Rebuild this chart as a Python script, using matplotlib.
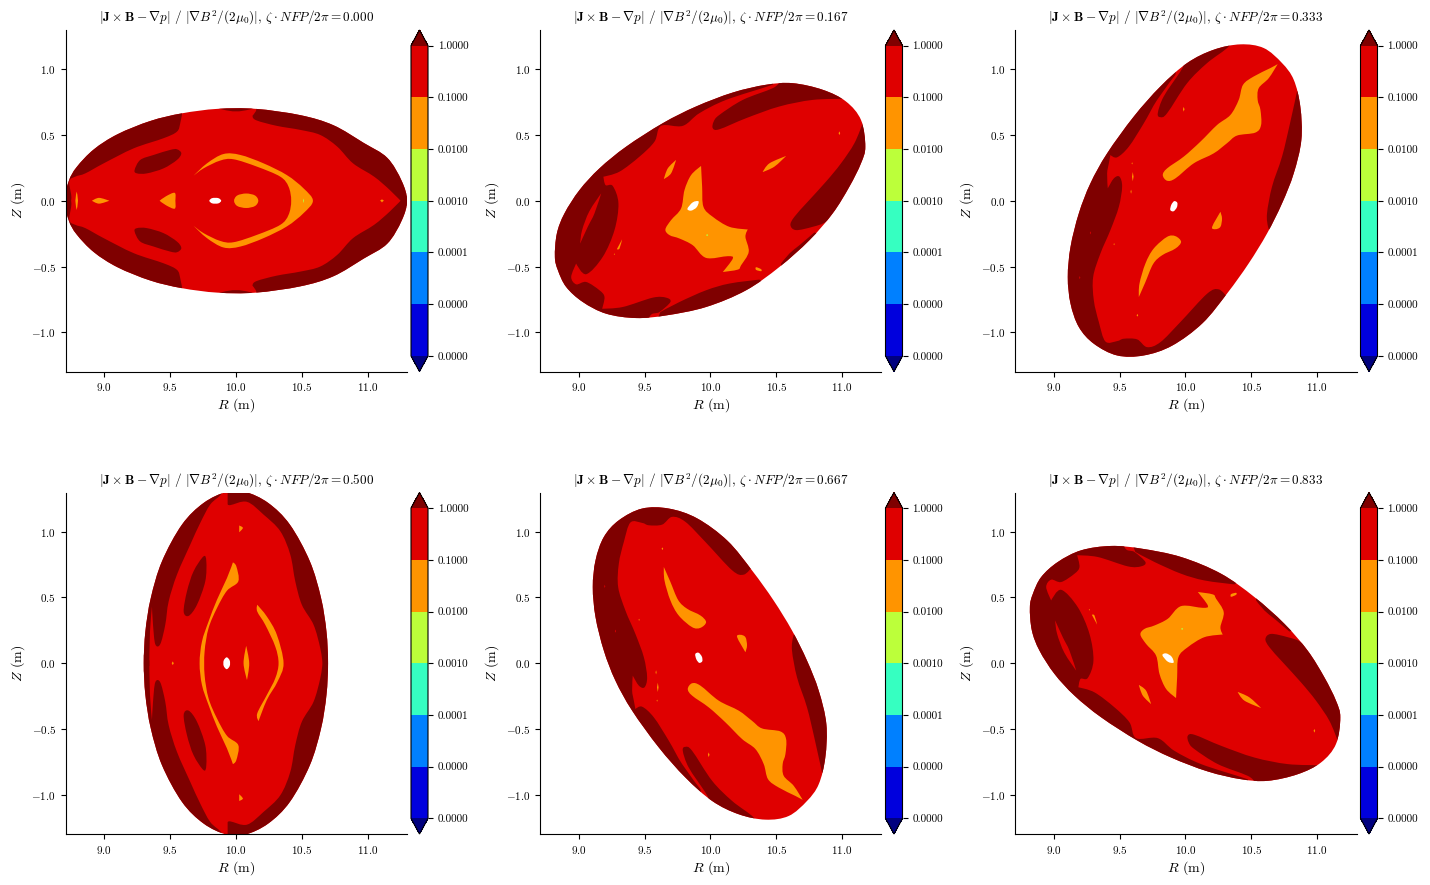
import numpy as np
import matplotlib
matplotlib.use('Agg')
import matplotlib.pyplot as plt
from matplotlib.colors import ListedColormap, BoundaryNorm
from matplotlib.cm import ScalarMappable
from matplotlib.patches import PathPatch
from matplotlib.path import Path

plt.rcParams['font.family'] = ['cmr10', 'DejaVu Sans']
plt.rcParams['mathtext.fontset'] = 'cm'
plt.rcParams['axes.formatter.use_mathtext'] = True

zetas = [0.000, 0.167, 0.333, 0.500, 0.667, 0.833]
levels = [1e-6, 1e-5, 1e-4, 1e-3, 1e-2, 1e-1, 1e0]
band_colors = ['#0000dd', '#0080ff', '#36ffc1', '#bcff3a', '#ff9400', '#df0000']
under_color = '#00007f'
over_color = '#7f0000'

# contour regions are (R, Z) in metres, a repeated vertex marks a sharp corner

# zeta = 0.000, up-down symmetric, upper half regions get flipped
a_outline = [(8.70, 0), (8.73, 0.15), (8.79, 0.256), (8.92, 0.39), (9.10, 0.505), (9.35, 0.606),
             (9.59, 0.664), (9.86, 0.698), (10.15, 0.698), (10.49, 0.65), (10.74, 0.574),
             (10.97, 0.44), (11.15, 0.326), (11.26, 0.15), (11.30, 0), (11.26, -0.15),
             (11.15, -0.326), (10.97, -0.44), (10.74, -0.574), (10.49, -0.65), (10.15, -0.698),
             (9.86, -0.698), (9.59, -0.664), (9.35, -0.606), (9.10, -0.505), (8.92, -0.39),
             (8.79, -0.256), (8.73, -0.15)]
a_dark_left = [(8.734, -0.02), (8.734, 0.145), (8.78, 0.183), (8.856, 0.208), (8.995, 0.284), (9.223, 0.398),
               (9.45, 0.475), (9.552, 0.525), (9.577, 0.589), (9.592, 0.67), (9.592, 0.67), (9.592, 0.9),
               (8.5, 0.9), (8.5, -0.02)]
a_dark_top = [(9.85, 0.72), (9.95, 0.683), (10.05, 0.683), (10.15, 0.72), (10.15, 0.85), (9.85, 0.85)]
a_dark_right = [(10.127, 0.64), (10.16, 0.609), (10.31, 0.569), (10.49, 0.538), (10.64, 0.5), (10.77, 0.411),
                (10.89, 0.284), (11.05, 0.183), (11.17, 0.081), (11.27, -0.02), (11.27, -0.02), (11.5, -0.02),
                (11.5, 0.9), (10.3, 0.9), (10.15, 0.678)]
a_island = [(9.23, 0.233), (9.273, 0.31), (9.375, 0.348), (9.50, 0.386), (9.552, 0.391), (9.585, 0.36),
            (9.552, 0.31), (9.45, 0.246), (9.324, 0.208), (9.248, 0.208)]
a_crescent = [(9.678, 0.19), (9.678, 0.19), (9.78, 0.284), (9.906, 0.355), (10.033, 0.348), (10.21, 0.284),
              (10.387, 0.195), (10.514, 0.094), (10.585, 0), (10.514, -0.094), (10.387, -0.195), (10.21, -0.284),
              (10.033, -0.348), (9.906, -0.355), (9.78, -0.284), (9.678, -0.19), (9.678, -0.19), (9.754, -0.246),
              (9.88, -0.305), (9.982, -0.315), (10.16, -0.259), (10.337, -0.183), (10.40, -0.107), (10.42, 0),
              (10.40, 0.107), (10.337, 0.183), (10.16, 0.259), (9.982, 0.315), (9.88, 0.305), (9.754, 0.246)]
a_triangle = [(9.42, 0), (9.42, 0), (9.47, 0.035), (9.535, 0.06), (9.54, 0), (9.535, -0.06), (9.47, -0.035)]
a_oval = [(9.986, 0), (10.01, 0.04), (10.078, 0.055), (10.145, 0.04), (10.17, 0), (10.145, -0.04),
          (10.078, -0.055), (10.01, -0.04)]
a_lens_thin = [(8.79, 0.07), (8.79, 0.07), (8.80, 0), (8.79, -0.07), (8.79, -0.07), (8.78, 0)]
a_lens_flat = [(8.906, 0), (8.906, 0), (8.96, 0.022), (9.038, 0), (9.038, 0), (8.96, -0.022)]
a_hole = [(9.798, 0), (9.82, 0.02), (9.866, 0.02), (9.888, 0), (9.866, -0.02), (9.82, -0.02)]
a_specks = [(11.11, 0, 0.016, 0.008), (11.11, 0, 0.005, 0.015)]
a_green_specks = [(10.514, 0, 0.004, 0.018)]

# zeta = 0.167, flipped in Z this also gives zeta = 0.833
b_outline = [(8.818, -0.426), (8.833, -0.249), (8.891, -0.096), (9.005, 0.081), (9.157, 0.246), (9.36, 0.411),
             (9.638, 0.589), (9.891, 0.716), (10.17, 0.822), (10.423, 0.881), (10.625, 0.893), (10.853, 0.843),
             (11.03, 0.754), (11.144, 0.614), (11.177, 0.411), (11.144, 0.284), (11.056, 0.107), (10.929, -0.096),
             (10.752, -0.30), (10.524, -0.503), (10.271, -0.68), (9.967, -0.807), (9.663, -0.871), (9.435, -0.891),
             (9.208, -0.858), (9.03, -0.769), (8.904, -0.655), (8.841, -0.528)]
b_dark_main = [(10.473, 0.893), (10.448, 0.873), (10.119, 0.766), (9.916, 0.665), (9.79, 0.569), (9.625, 0.569),
               (9.575, 0.449), (9.461, 0.335), (9.309, 0.221), (9.187, 0.183), (9.187, 0.183), (9.203, 0.119),
               (9.258, 0.112), (9.301, -0.02), (9.271, -0.223), (9.182, -0.426), (9.056, -0.558), (8.98, -0.477),
               (8.98, -0.477), (8.942, -0.579), (8.98, -0.635), (9.056, -0.617), (9.157, -0.68), (9.195, -0.731),
               (9.177, -0.82), (9.177, -0.82), (9.334, -0.807), (9.562, -0.736), (9.663, -0.736), (9.696, -0.769),
               (9.613, -0.845), (9.537, -0.883), (9.5, -1.1), (8.6, -1.1), (8.6, 0.2), (9.6, 0.95), (10.473, 1.0)]
b_red_sliver = [(9.17, 0.056), (9.17, 0.056), (9.119, -0.096), (9.068, -0.198), (9.01, -0.325), (9.01, -0.325),
                (9.025, -0.223), (9.08, -0.08)]
b_dark_blob = [(10.018, 0.551), (10.025, 0.602), (10.068, 0.652), (10.246, 0.766), (10.473, 0.855), (10.537, 0.906),
               (10.651, 0.95), (10.853, 0.92), (11.018, 0.774), (11.018, 0.774), (10.777, 0.766), (10.524, 0.716),
               (10.271, 0.627), (10.068, 0.543)]
b_dark_bottom = [(9.62, -0.845), (9.62, -0.845), (9.765, -0.769), (9.967, -0.68), (10.144, -0.629), (10.372, -0.599),
                 (10.372, -0.599), (10.45, -0.75), (10.0, -1.0), (9.62, -1.0)]
b_dark_right = [(11.157, 0.589), (11.157, 0.589), (11.094, 0.437), (10.992, 0.284), (10.878, 0.145), (10.739, -0.008),
                (10.638, -0.122), (10.608, -0.185), (10.651, -0.223), (10.777, -0.198), (10.878, -0.16),
                (10.967, -0.066), (10.967, -0.066), (11.2, -0.05), (11.4, 0.3), (11.3, 0.6)]
b_dark_sliver = [(10.537, -0.477), (10.537, -0.477), (10.6, -0.401), (10.676, -0.338), (10.79, -0.241),
                 (10.79, -0.241), (10.803, -0.3), (10.575, -0.541)]
b_orange_main = [(9.929, 0.264), (9.929, 0.264), (9.937, 0.107), (9.947, -0.046), (10.018, -0.122), (10.144, -0.198),
                 (10.284, -0.218), (10.284, -0.218), (10.266, -0.274), (10.291, -0.388), (10.233, -0.49),
                 (10.208, -0.523), (10.094, -0.541), (10.094, -0.541), (10.17, -0.439), (10.132, -0.421),
                 (9.967, -0.434), (9.866, -0.338), (9.765, -0.287), (9.689, -0.261), (9.658, -0.218), (9.701, -0.147),
                 (9.777, -0.058), (9.803, 0.081), (9.853, 0.195)]
b_orange_upper = [(9.739, 0.31), (9.739, 0.31), (9.701, 0.208), (9.646, 0.165), (9.646, 0.165), (9.676, 0.246)]
b_orange_right = [(10.575, 0.34), (10.575, 0.34), (10.486, 0.259), (10.397, 0.218), (10.397, 0.218), (10.448, 0.284)]
b_orange_left = [(9.329, -0.292), (9.329, -0.292), (9.309, -0.363), (9.289, -0.368), (9.289, -0.368), (9.319, -0.312)]
b_orange_low = [(10.347, -0.505), (10.385, -0.52), (10.385, -0.535), (10.347, -0.525)]
b_hole = [(9.825, -0.061), (9.866, -0.012), (9.91, -0.005), (9.895, -0.05), (9.853, -0.075)]
b_specks = [(10.98, 0.513, 0.006, 0.014), (9.27, -0.406, 0.004, 0.006)]
b_green_specks = [(9.975, -0.261, 0.008, 0.008)]

# zeta = 0.333, flipped in Z this also gives zeta = 0.667
c_outline = [(9.106, -0.579), (9.127, -0.35), (9.19, -0.096), (9.278, 0.132), (9.405, 0.36), (9.608, 0.64),
             (9.81, 0.868), (10.013, 1.046), (10.215, 1.147), (10.418, 1.188), (10.595, 1.16), (10.734, 1.046),
             (10.823, 0.919), (10.873, 0.716), (10.881, 0.462), (10.823, 0.208), (10.734, -0.02), (10.62, -0.249),
             (10.48, -0.477), (10.32, -0.70), (10.13, -0.93), (9.90, -1.10), (9.684, -1.175), (9.481, -1.175),
             (9.304, -1.086), (9.19, -0.959), (9.127, -0.782)]
c_dark_oval = [(10.329, 1.173), (10.165, 1.046), (10.013, 0.893), (9.861, 0.665), (9.81, 0.635), (9.79, 0.665),
               (9.835, 0.792), (9.962, 0.982), (9.987, 1.033), (9.987, 1.033), (10.1, 1.25), (10.33, 1.25)]
c_dark_main = [(9.924, 0.957), (9.924, 0.957), (9.785, 0.766), (9.684, 0.589), (9.57, 0.411), (9.481, 0.33),
               (9.43, 0.348), (9.43, 0.348), (9.418, 0.284), (9.405, 0.208), (9.41, 0.094), (9.41, 0.094),
               (9.456, 0.17), (9.499, 0.183), (9.519, 0.107), (9.494, -0.046), (9.43, -0.223), (9.354, -0.401),
               (9.299, -0.579), (9.304, -0.756), (9.342, -0.921), (9.392, -1.069), (9.481, -1.066), (9.532, -1.048),
               (9.633, -1.053), (9.709, -1.112), (9.81, -1.074), (9.962, -0.921), (10.165, -0.706), (10.253, -0.673),
               (10.316, -0.731), (10.316, -0.731), (10.4, -1.0), (9.7, -1.4), (8.9, -1.3), (8.9, 0.3), (9.8, 1.1)]
c_dark_right = [(10.848, 0.83), (10.848, 0.83), (10.792, 0.576), (10.734, 0.335), (10.658, 0.107), (10.62, -0.096),
                (10.628, -0.198), (10.646, -0.218), (10.691, -0.178), (10.691, -0.178), (11.1, 0.2), (11.1, 0.83)]
c_orange_main = [(10.701, 1.038), (10.701, 1.038), (10.646, 1.008), (10.519, 0.944), (10.438, 0.881), (10.405, 0.766),
                 (10.342, 0.652), (10.241, 0.576), (10.114, 0.449), (9.987, 0.335), (9.861, 0.246), (9.828, 0.195),
                 (9.861, 0.152), (9.924, 0.17), (10.063, 0.284), (10.215, 0.36), (10.316, 0.437), (10.392, 0.495),
                 (10.532, 0.518), (10.575, 0.576), (10.57, 0.69), (10.549, 0.766), (10.557, 0.855), (10.633, 0.931)]
c_orange_drop = [(10.266, -0.084), (10.266, -0.084), (10.203, -0.198), (10.228, -0.216), (10.266, -0.198),
                 (10.278, -0.135)]
c_orange_lower = [(9.646, -0.731), (9.646, -0.731), (9.651, -0.629), (9.696, -0.477), (9.759, -0.363), (9.861, -0.274),
                  (9.924, -0.269), (9.967, -0.312), (9.924, -0.363), (9.823, -0.414), (9.755, -0.48), (9.695, -0.62)]
c_hole = [(9.885, -0.07), (9.893, -0.03), (9.915, -0.003), (9.938, -0.015), (9.935, -0.05), (9.91, -0.08)]
c_specks = [(9.987, 0.695, 0.006, 0.018), (9.6, 0.183, 0.006, 0.035), (9.587, 0.069, 0.004, 0.016),
            (9.595, 0.284, 0.004, 0.008), (9.458, -0.33, 0.004, 0.008), (9.635, -0.87, 0.006, 0.01)]
c_red_specks = [(9.278, -0.244, 0.004, 0.012), (9.197, -0.584, 0.004, 0.012)]

# zeta = 0.500, also up-down symmetric
d_outline = [(9.30, 0), (9.312, 0.241), (9.353, 0.495), (9.438, 0.774), (9.59, 1.053), (9.755, 1.218), (9.93, 1.302),
             (10.07, 1.302), (10.245, 1.218), (10.41, 1.053), (10.562, 0.774), (10.647, 0.495), (10.688, 0.241),
             (10.70, 0), (10.688, -0.241), (10.647, -0.495), (10.562, -0.774), (10.41, -1.053), (10.245, -1.218),
             (10.07, -1.302), (9.93, -1.302), (9.755, -1.218), (9.59, -1.053), (9.438, -0.774), (9.353, -0.495),
             (9.312, -0.241)]
d_dark_left = [(9.894, 1.294), (9.805, 1.206), (9.729, 1.066), (9.653, 0.901), (9.552, 0.673), (9.489, 0.47),
               (9.463, 0.292), (9.425, 0.145), (9.387, 0.145), (9.37, 0.292), (9.362, 0.431), (9.362, 0.431),
               (9.347, 0.241), (9.342, -0.02), (9.342, -0.02), (9.1, -0.02), (9.1, 1.4), (9.894, 1.4)]
d_dark_right = [(9.937, 1.4), (9.937, 1.4), (9.937, 1.211), (9.937, 1.211), (9.957, 1.201), (10.084, 1.226),
                (10.21, 1.129), (10.337, 1.003), (10.413, 0.825), (10.451, 0.622), (10.501, 0.444), (10.59, 0.292),
                (10.641, 0.114), (10.661, -0.02), (10.661, -0.02), (10.9, -0.02), (10.9, 1.4)]
d_island = [(9.754, 0.812), (9.775, 0.774), (9.767, 0.622), (9.704, 0.444), (9.641, 0.36), (9.603, 0.393),
            (9.628, 0.546), (9.678, 0.698)]
d_crescent_left = [(9.977, 0.766), (9.977, 0.766), (10.003, 0.736), (10.018, 0.622), (9.932, 0.551), (9.856, 0.419),
                   (9.792, 0.266), (9.762, 0.089), (9.762, -0.089), (9.792, -0.266), (9.856, -0.419), (9.932, -0.551),
                   (10.018, -0.622), (10.003, -0.736), (9.977, -0.766), (9.977, -0.766), (9.932, -0.647),
                   (9.856, -0.482), (9.792, -0.317), (9.742, -0.165), (9.724, 0), (9.742, 0.165), (9.792, 0.317),
                   (9.856, 0.482), (9.932, 0.647)]
d_crescent_right = [(10.162, 0.444), (10.162, 0.444), (10.235, 0.355), (10.311, 0.216), (10.362, 0), (10.316, -0.14),
                    (10.235, -0.279), (10.172, -0.439), (10.172, -0.439), (10.162, -0.381), (10.235, -0.241),
                    (10.299, -0.114), (10.324, 0), (10.299, 0.127), (10.223, 0.292), (10.162, 0.393)]
d_lens = [(10.078, 0.132), (10.078, 0.132), (10.101, 0), (10.084, -0.127), (10.084, -0.127), (10.058, 0)]
d_orange_top = [(10.025, 1.046), (10.025, 1.046), (10.053, 1.028), (10.025, 0.995), (10.025, 0.995)]
d_hole = [(9.93, 0.045), (9.953, 0.02), (9.953, -0.02), (9.93, -0.045), (9.907, -0.02), (9.907, 0.02)]
d_specks = [(9.52, 0, 0.008, 0.014)]


def flip(points):
    return [(p[0], -p[1]) + tuple(p[2:]) for p in points]


panel_a = dict(outline=a_outline,
               dark=[a_dark_left, flip(a_dark_left), a_dark_top, flip(a_dark_top), a_dark_right, flip(a_dark_right),
                     a_island, flip(a_island)],
               red=[],
               orange=[a_crescent, a_triangle, a_oval, a_lens_thin, a_lens_flat],
               holes=[a_hole], specks=a_specks, green_specks=a_green_specks, red_specks=[])
panel_b = dict(outline=b_outline,
               dark=[b_dark_main, b_dark_blob, b_dark_bottom, b_dark_right, b_dark_sliver],
               red=[b_red_sliver],
               orange=[b_orange_main, b_orange_upper, b_orange_right, b_orange_left, b_orange_low],
               holes=[b_hole], specks=b_specks, green_specks=b_green_specks, red_specks=[])
panel_c = dict(outline=c_outline,
               dark=[c_dark_oval, c_dark_main, c_dark_right],
               red=[],
               orange=[c_orange_main, c_orange_drop, c_orange_lower],
               holes=[c_hole], specks=c_specks, green_specks=[], red_specks=c_red_specks)
panel_d = dict(outline=d_outline,
               dark=[d_dark_left, flip(d_dark_left), d_dark_right, flip(d_dark_right), d_island, flip(d_island)],
               red=[],
               orange=[d_crescent_left, d_crescent_right, d_lens, d_orange_top, flip(d_orange_top)],
               holes=[d_hole], specks=d_specks, green_specks=[], red_specks=[])


def flip_panel(panel):
    out = {}
    for key, val in panel.items():
        if key in ('outline', 'specks', 'green_specks', 'red_specks'):
            out[key] = flip(val)
        else:
            out[key] = [flip(v) for v in val]
    return out


panels = [panel_a, panel_b, panel_c, panel_d, flip_panel(panel_c), flip_panel(panel_b)]


def region_path(points):
    # cubic segments through every vertex, no tangent at a repeated vertex so it stays a corner
    pts = np.array(points, dtype=float)
    prev = np.roll(pts, 1, axis=0)
    nxt = np.roll(pts, -1, axis=0)
    tangent = (nxt - prev) / 6
    corner = np.all(pts == prev, axis=1) | np.all(pts == nxt, axis=1)
    tangent[corner] = 0
    verts = [pts[0]]
    codes = [Path.MOVETO]
    for i in range(len(pts)):
        j = (i + 1) % len(pts)
        verts += [pts[i] + tangent[i], pts[j] - tangent[j], pts[j]]
        codes += [Path.CURVE4, Path.CURVE4, Path.CURVE4]
    return Path(verts, codes)


def add_region(ax, points, color, clip):
    patch = PathPatch(region_path(points), facecolor=color, edgecolor='none', lw=0)
    ax.add_patch(patch)
    patch.set_clip_path(clip)


def add_specks(ax, specks, color, clip):
    for r, z, dr, dz in specks:
        diamond = [(r - dr, z), (r - dr, z), (r, z + dz), (r, z + dz), (r + dr, z), (r + dr, z), (r, z - dz), (r, z - dz)]
        add_region(ax, diamond, color, clip)


cmap = ListedColormap(band_colors)
cmap.set_under(under_color)
cmap.set_over(over_color)
norm = BoundaryNorm(levels, cmap.N)

fig = plt.figure(figsize=(14.3, 8.85), dpi=100)
col_left = [65.5, 540, 1015]
row_top = [30, 492.5]
red = band_colors[5]
orange = band_colors[4]
green = band_colors[3]

for i, panel in enumerate(panels):
    x0 = col_left[i % 3]
    y0 = row_top[i // 3]
    ax = fig.add_axes([x0 / 1430, 1 - (y0 + 341.5) / 885, 341.5 / 1430, 341.5 / 885])

    base = PathPatch(region_path(panel['outline']), facecolor=red, edgecolor='none', lw=0)
    ax.add_patch(base)
    for poly in panel['dark']:
        add_region(ax, poly, over_color, base)
    for poly in panel['red']:
        add_region(ax, poly, red, base)
    for poly in panel['orange']:
        add_region(ax, poly, orange, base)
    add_specks(ax, panel['specks'], orange, base)
    add_specks(ax, panel['green_specks'], green, base)
    add_specks(ax, panel['red_specks'], red, base)
    for poly in panel['holes']:
        add_region(ax, poly, 'white', base)

    ax.set_xlim(8.705, 11.30)
    ax.set_ylim(-1.297, 1.297)
    ax.set_xticks([9.0, 9.5, 10.0, 10.5, 11.0])
    ax.set_yticks([-1.0, -0.5, 0.0, 0.5, 1.0])
    ax.tick_params(labelsize=8)
    ax.spines['top'].set_visible(False)
    ax.spines['right'].set_visible(False)
    ax.set_xlabel(r'$R$ (m)', fontsize=10, labelpad=2.5)
    ax.set_ylabel(r'$Z$ (m)', fontsize=10, labelpad=3.2)
    ax.set_title(r'$|\mathbf{J} \times \mathbf{B} - \nabla p|$ / $|\nabla B^2/(2\mu_0)|$, '
                 r'$\zeta \cdot NFP/2\pi = %.3f$' % zetas[i], fontsize=9.5)

    cax = fig.add_axes([(x0 + 345.5) / 1430, 1 - (y0 + 341.5) / 885, 17 / 1430, 341.5 / 885])
    cbar = fig.colorbar(ScalarMappable(norm=norm, cmap=cmap), cax=cax, extend='both',
                        ticks=levels, format='%.4f', drawedges=False)
    cbar.ax.minorticks_off()
    cbar.ax.tick_params(labelsize=8)

plt.savefig('out.png', dpi=100)
